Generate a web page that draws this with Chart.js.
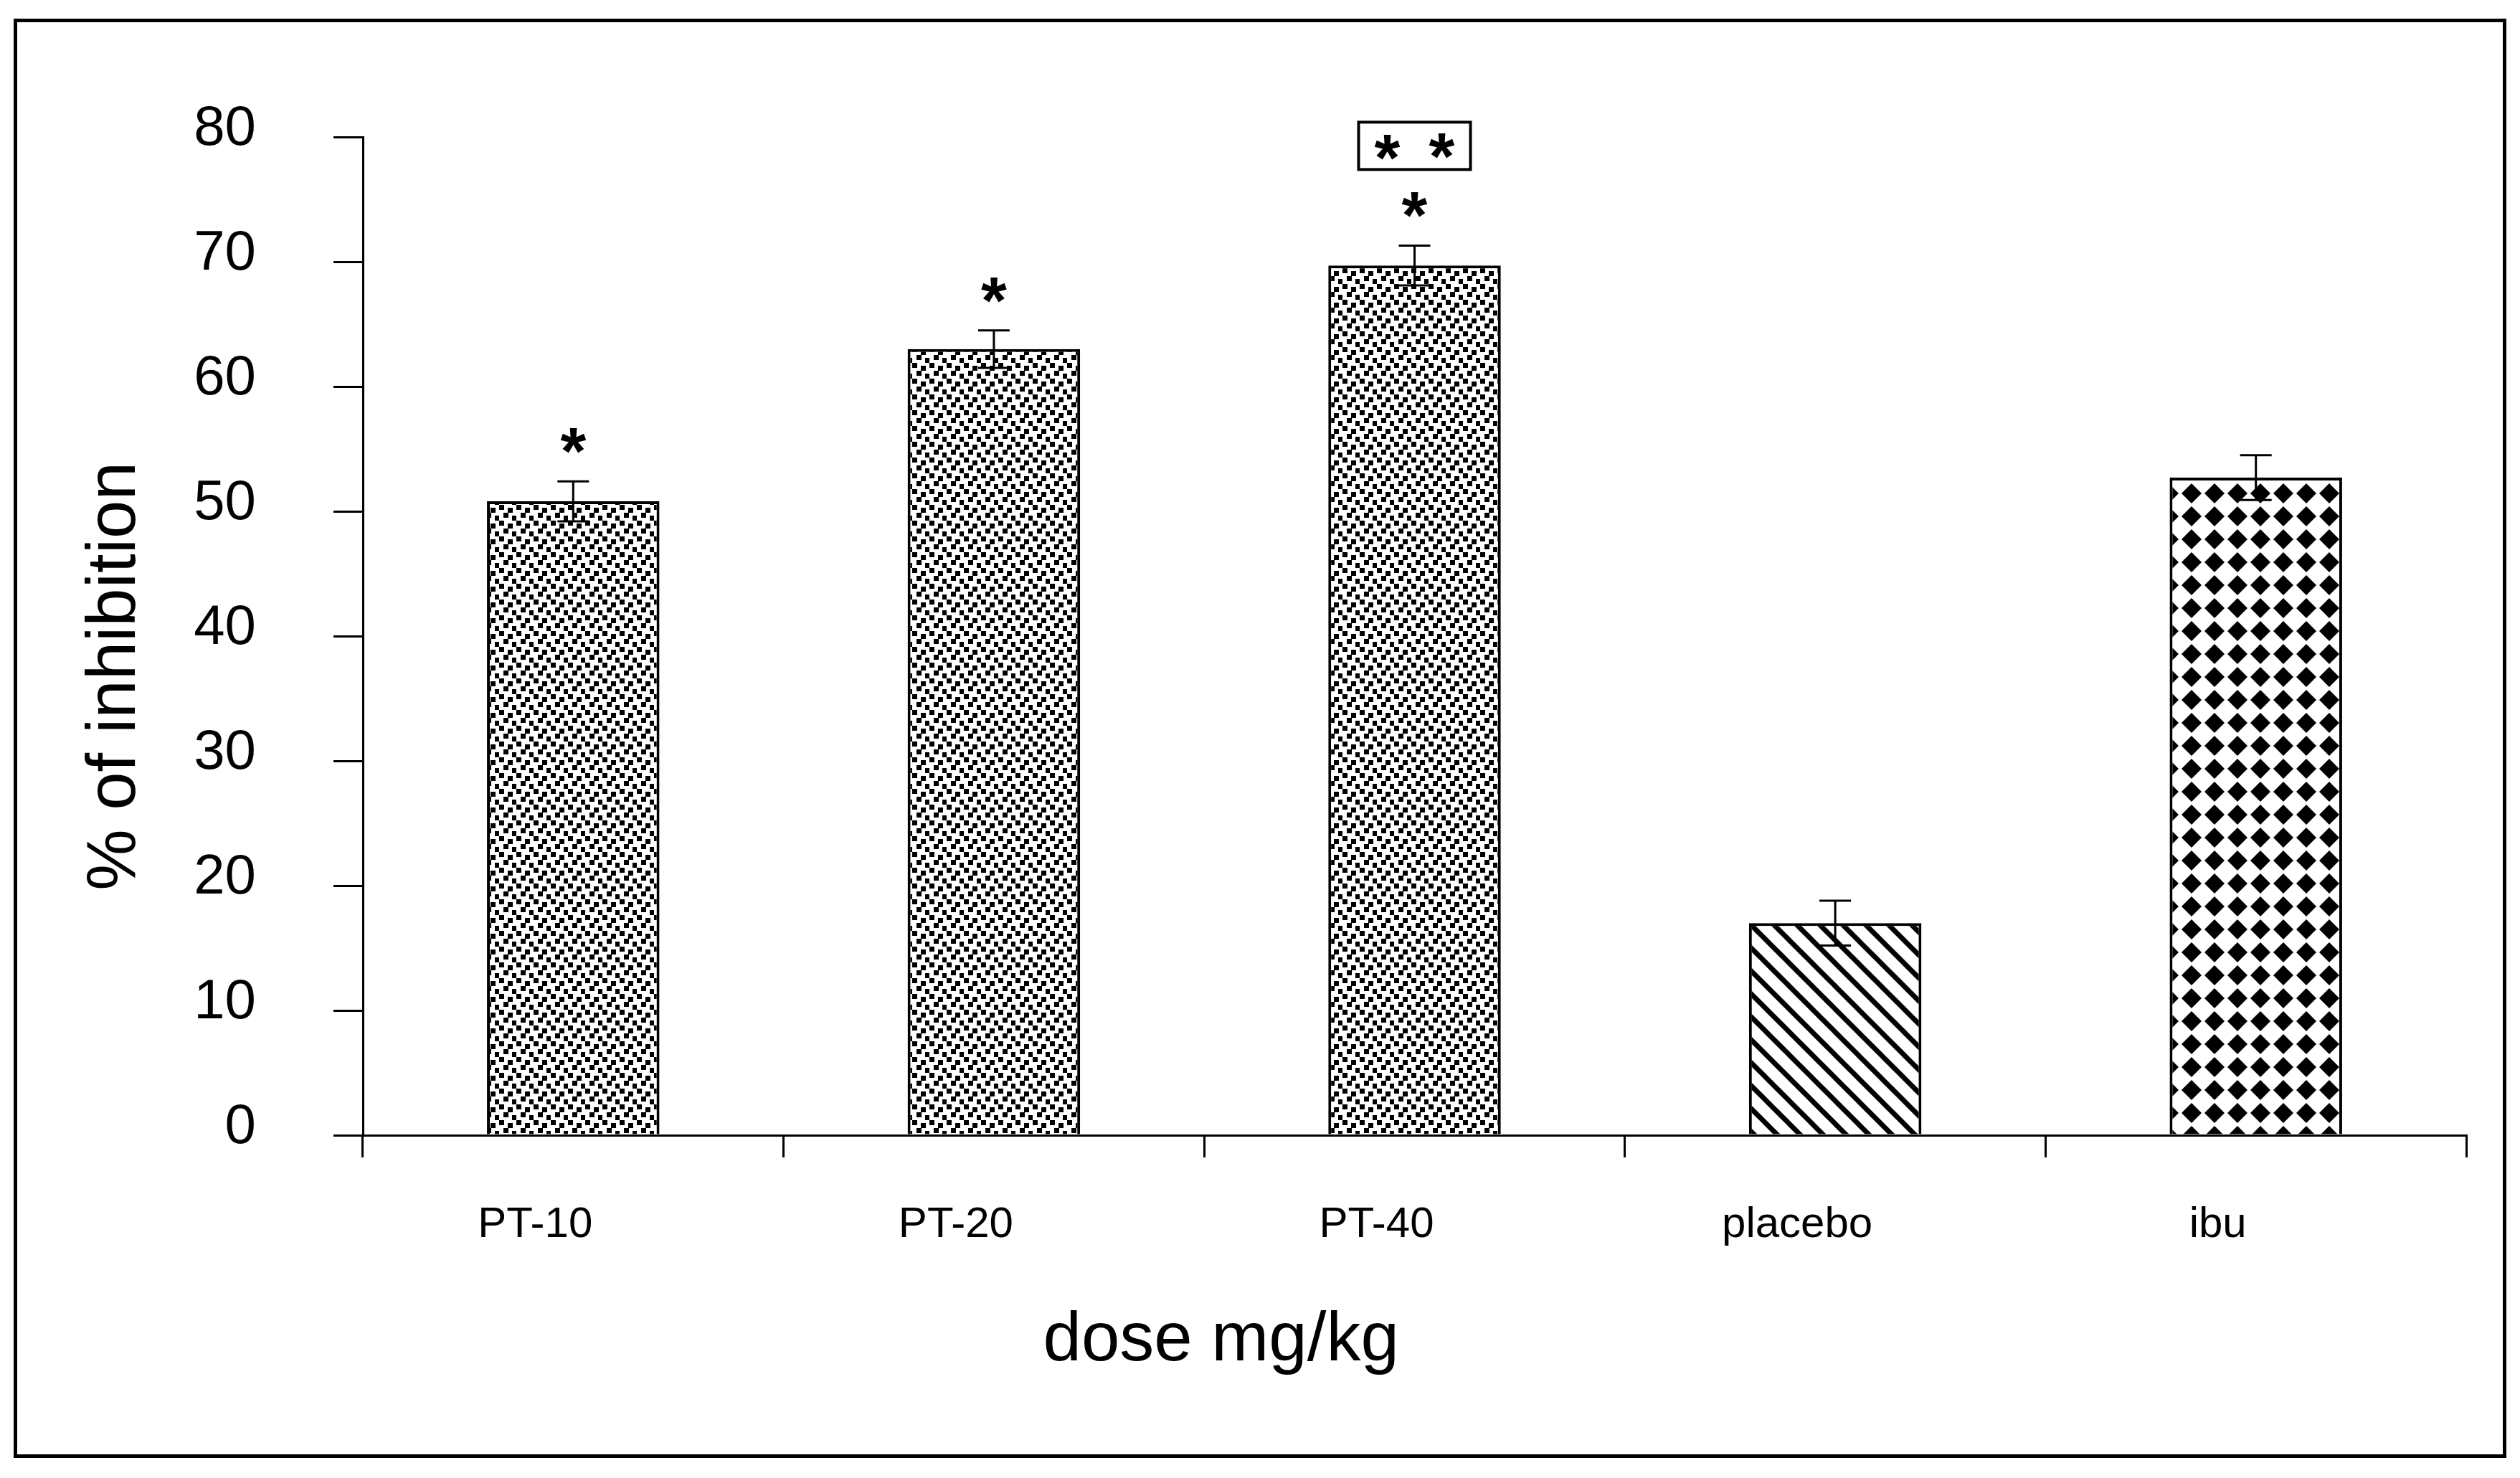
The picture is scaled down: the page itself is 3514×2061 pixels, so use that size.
<!DOCTYPE html>
<html>
<head>
<meta charset="utf-8">
<script src="https://cdn.jsdelivr.net/npm/chart.js@4.4.1/dist/chart.umd.min.js"></script>
<style>
    body { margin: 0; background: #fff; }
    #wrap { position: relative; width: 3514px; height: 2061px; }
    #frame { position: absolute; left: 19px; top: 26px; width: 3466px; height: 1997px; border: 5px solid #000; }
    canvas { position: absolute; left: 0; top: 0; }
</style>
</head>
<body>
<div id="wrap">
    <div id="frame"></div>
    <canvas id="grafico" width="3514" height="2061"></canvas>
</div>
<script>
const categorias = ["PT-10", "PT-20", "PT-40", "placebo", "ibu"];
const inibicao = [50.8, 63.0, 69.7, 17.0, 52.7];
const erros = [1.6, 1.5, 1.6, 1.8, 1.8];
const estrelas = ["*", "*", "*", "", ""];
const estrelasCaixa = ["", "", "* *", "", ""];
const ticksY = [0, 10, 20, 30, 40, 50, 60, 70, 80];
const tituloX = "dose mg/kg";
const tituloY = "% of inhibition";

const fonte = '"Liberation Sans", Arial, sans-serif';

function padraoPontos() {
    const c = document.createElement("canvas");
    c.width = 24; c.height = 22;
    const g = c.getContext("2d");
    g.fillStyle = "#fff";
    g.fillRect(0, 0, 24, 22);
    g.fillStyle = "#000";
    [[0, 0], [12, 4], [6, 11], [18, 15]].forEach(p => g.fillRect(p[0], p[1], 7, 7));
    return g.createPattern(c, "repeat");
}

function padraoDiagonal() {
    const c = document.createElement("canvas");
    c.width = 32; c.height = 32;
    const g = c.getContext("2d");
    g.fillStyle = "#fff";
    g.fillRect(0, 0, 32, 32);
    g.strokeStyle = "#000";
    g.lineWidth = 7;
    [-32, 0, 32].forEach(dx => {
        g.beginPath();
        g.moveTo(dx - 8, -8);
        g.lineTo(dx + 40, 40);
        g.stroke();
    });
    return g.createPattern(c, "repeat");
}

function padraoLosangos() {
    const c = document.createElement("canvas");
    c.width = 32; c.height = 32;
    const g = c.getContext("2d");
    g.fillStyle = "#fff";
    g.fillRect(0, 0, 32, 32);
    g.fillStyle = "#000";
    g.beginPath();
    g.moveTo(16, 2);
    g.lineTo(30, 16);
    g.lineTo(16, 30);
    g.lineTo(2, 16);
    g.closePath();
    g.fill();
    return g.createPattern(c, "repeat");
}

const pontos = padraoPontos();
const preenchimentos = [pontos, pontos, pontos, padraoDiagonal(), padraoLosangos()];

// barras de erro, asteriscos e titulos dos eixos
const extras = {
    id: "extras",
    afterDatasetsDraw(chart) {
        const ctx = chart.ctx;
        const y = chart.scales.y;
        const meta = chart.getDatasetMeta(0);
        ctx.save();
        ctx.strokeStyle = "#000";
        ctx.fillStyle = "#000";
        meta.data.forEach((bar, i) => {
            const topo = y.getPixelForValue(inibicao[i] + erros[i]);
            const base = y.getPixelForValue(inibicao[i] - erros[i]);
            ctx.lineWidth = 3;
            ctx.beginPath();
            ctx.moveTo(bar.x, topo);
            ctx.lineTo(bar.x, base);
            ctx.moveTo(bar.x - 22, topo);
            ctx.lineTo(bar.x + 22, topo);
            ctx.moveTo(bar.x - 22, base);
            ctx.lineTo(bar.x + 22, base);
            ctx.stroke();

            ctx.font = "bold 92px " + fonte;
            ctx.textAlign = "center";
            ctx.textBaseline = "alphabetic";
            if (estrelas[i]) {
                ctx.fillText(estrelas[i], bar.x, topo - 10);
            }
            if (estrelasCaixa[i]) {
                ctx.lineWidth = 4;
                ctx.strokeRect(bar.x - 78, topo - 172, 156, 66);
                ctx.fillText("*", bar.x - 38, topo - 90);
                ctx.fillText("*", bar.x + 38, topo - 92);
            }
        });
        ctx.restore();
    },
    afterDraw(chart) {
        const ctx = chart.ctx;
        const a = chart.chartArea;
        ctx.save();
        ctx.fillStyle = "#000";
        ctx.font = "96px " + fonte;
        ctx.textAlign = "center";
        ctx.textBaseline = "alphabetic";
        ctx.fillText(tituloX, a.left + 0.408 * (a.right - a.left), a.bottom + 314);
        ctx.translate(a.left - 318, a.top + 752);
        ctx.rotate(-Math.PI / 2);
        ctx.fillText(tituloY, 0, 0);
        ctx.restore();
    }
};

new Chart(document.getElementById("grafico"), {
    type: "bar",
    data: {
        labels: categorias,
        datasets: [{
            data: inibicao,
            backgroundColor: preenchimentos,
            borderColor: "#000",
            borderWidth: 4,
            barPercentage: 0.41,
            categoryPercentage: 1.0
        }]
    },
    options: {
        responsive: false,
        devicePixelRatio: 1,
        animation: false,
        layout: { padding: { left: 0, top: 191, right: 75, bottom: 0 } },
        plugins: {
            legend: { display: false },
            tooltip: { enabled: false }
        },
        scales: {
            x: {
                offset: true,
                afterFit: s => { s.height = 478; },
                border: { display: true, color: "#000", width: 3 },
                grid: {
                    offset: true,
                    drawOnChartArea: false,
                    color: "#000",
                    lineWidth: 3,
                    tickLength: 31
                },
                ticks: {
                    color: "#000",
                    font: { family: fonte, size: 60 },
                    padding: 58,
                    labelOffset: -53,
                    maxRotation: 0
                }
            },
            y: {
                min: 0,
                max: 80,
                afterFit: s => { s.width = 506; },
                afterBuildTicks: s => { s.ticks = ticksY.map(v => ({ value: v })); },
                border: { display: true, color: "#000", width: 3 },
                grid: {
                    drawOnChartArea: false,
                    color: "#000",
                    lineWidth: 3,
                    tickLength: 41
                },
                ticks: {
                    color: "#000",
                    font: { family: fonte, size: 78 },
                    padding: 108,
                    labelOffset: -11
                }
            }
        }
    },
    plugins: [extras]
});
</script>
</body>
</html>
